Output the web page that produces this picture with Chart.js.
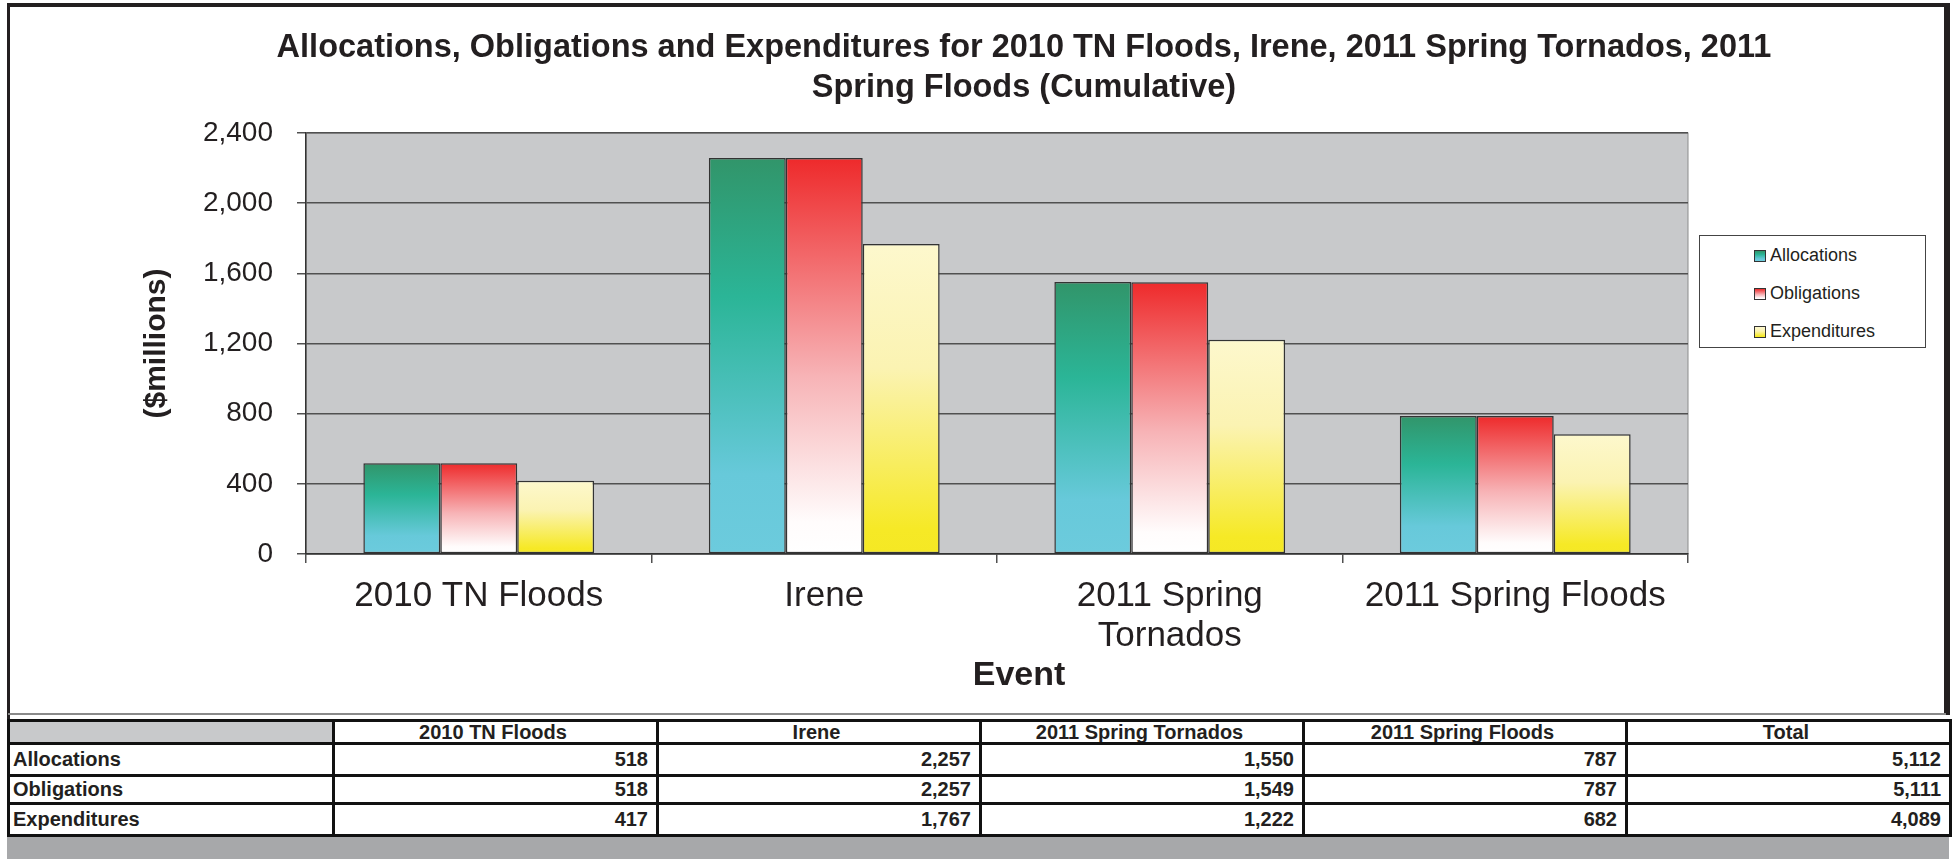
<!DOCTYPE html>
<html>
<head>
<meta charset="utf-8">
<script src="https://cdn.jsdelivr.net/npm/chart.js@4.4.0/dist/chart.umd.min.js"></script>
<style>
body{margin:0;background:#fff;width:1955px;height:859px;overflow:hidden;position:relative;font-family:"Liberation Sans",Arial,sans-serif;color:#231f20}
.abs{position:absolute}
#title{left:0;top:26px;width:2048px;text-align:center;font-weight:bold;font-size:32.5px;line-height:40px}
#xTitle{left:0;top:653px;width:2038px;text-align:center;font-weight:bold;font-size:34px;line-height:40px}
#chartBox{left:0;top:0;width:1955px;height:714px}
#legend{left:1699px;top:235px;width:225px;height:111px;border:1.5px solid #444;background:#fff}
.item{position:absolute;left:54px;font-size:18px;line-height:20px;height:20px}
.sw{display:inline-block;width:10px;height:10px;border:1px solid #333;margin-right:4px;vertical-align:-1px}
#dataTable{left:7px;top:719px;width:1942px;border-collapse:collapse;table-layout:fixed;font-weight:bold;font-size:20px}
#dataTable td{border:3px solid #111;padding:0 8px 0 3px;white-space:nowrap;overflow:hidden;box-sizing:content-box}
#dataTable tr.head td{height:20px;line-height:20px;text-align:center;background:#fff}
#dataTable tr.head td.blank{background:#c8c9cb}
#dataTable td.num{text-align:right}
</style>
</head>
<body>
<!-- outer frame -->
<div class="abs" style="left:8px;top:3px;width:1942px;height:4px;background:#231f20"></div>
<div class="abs" style="left:7px;top:3px;width:3px;height:856px;background:#231f20"></div>
<div class="abs" style="left:1944px;top:3px;width:6px;height:712px;background:#231f20"></div>
<div class="abs" style="left:8px;top:713px;width:1938px;height:2px;background:#8a8a8a"></div>
<div class="abs" style="left:7px;top:837px;width:1942px;height:22px;background:#a7a8aa"></div>

<div id="chartBox" class="abs"><canvas id="myChart"></canvas></div>
<div id="title" class="abs">Allocations, Obligations and Expenditures for 2010 TN Floods, Irene, 2011 Spring Tornados, 2011<br>Spring Floods (Cumulative)</div>
<div id="xTitle" class="abs">Event</div>
<div id="legend" class="abs"></div>
<table id="dataTable" class="abs"></table>

<script>
const categories = ['2010 TN Floods', 'Irene', '2011 Spring Tornados', '2011 Spring Floods'];
const tickLabels = ['2010 TN Floods', 'Irene', ['2011 Spring', 'Tornados'], '2011 Spring Floods'];
const seriesNames = ['Allocations', 'Obligations', 'Expenditures'];
const allocations = [518, 2257, 1550, 787];
const obligations = [518, 2257, 1549, 787];
const expenditures = [417, 1767, 1222, 682];
const totals = [5112, 5111, 4089];
const yTicks = [0, 400, 800, 1200, 1600, 2000, 2400];

// gradient stops top -> bottom for each series
const gradStops = [
    [[0, '#31956a'], [0.35, '#2bb597'], [0.8, '#67c9da'], [1, '#6ccbdd']],
    [[0, '#ee2a2b'], [0.55, '#f7b3b6'], [0.92, '#fffcfc'], [1, '#ffffff']],
    [[0, '#fdf8cd'], [0.4, '#fbf3b2'], [0.92, '#f6e926'], [1, '#f5e824']]
];

function barFill(stops){
    return function(ctx){
        const chart = ctx.chart
        if(!chart.chartArea || ctx.type !== 'data') return stops[0][1]
        const y = chart.scales.y
        const top = y.getPixelForValue(ctx.raw)
        const bot = y.getPixelForValue(0)
        const g = chart.ctx.createLinearGradient(0, top, 0, bot)
        stops.forEach(s => g.addColorStop(s[0], s[1]))
        return g
    }
}

const fmt = v => Number(v).toLocaleString('en-US')

// grey plot background
const plotBg = {
    id: 'plotBg',
    beforeDraw(chart){
        const {ctx, chartArea: a} = chart
        ctx.save()
        ctx.fillStyle = '#c8c9cb'
        ctx.fillRect(a.left, a.top, a.right - a.left, a.bottom - a.top)
        ctx.strokeStyle = '#8c8c8c'
        ctx.lineWidth = 1
        ctx.strokeRect(a.left, a.top, a.right - a.left, a.bottom - a.top)
        ctx.restore()
    }
}

const seriesData = [allocations, obligations, expenditures];
const ctx = document.getElementById('myChart');
const myChart = new Chart(ctx, {
    type: 'bar',
    data: {
        labels: categories,
        datasets: seriesNames.map((name, i) => ({
            label: name,
            data: seriesData[i],
            backgroundColor: barFill(gradStops[i]),
            borderColor: '#333333',
            borderWidth: 1.5,
            borderSkipped: false,
            categoryPercentage: 0.668,
            barPercentage: 1.0
        }))
    },
    plugins: [plotBg],
    options: {
        responsive: true,
        maintainAspectRatio: false,
        animation: false,
        layout: {padding: {top: 133, right: 267, left: 0, bottom: 0}},
        plugins: {
            legend: {display: false},
            tooltip: {enabled: false}
        },
        scales: {
            x: {
                ticks: {
                    color: '#231f20',
                    font: {family: '"Liberation Sans", Arial, sans-serif', size: 35, lineHeight: 1.15},
                    padding: 13,
                    maxRotation: 0,
                    autoSkip: false,
                    callback: (v, i) => tickLabels[i]
                },
                grid: {drawOnChartArea: false, tickLength: 9, color: '#505050', lineWidth: 1.5, offset: true},
                border: {color: '#333333', width: 1.5},
                afterFit: s => { s.height = 160 }
            },
            y: {
                min: 0,
                max: 2400,
                afterBuildTicks: s => { s.ticks = yTicks.map(v => ({value: v})) },
                ticks: {
                    color: '#231f20',
                    font: {family: '"Liberation Sans", Arial, sans-serif', size: 28},
                    padding: 24,
                    callback: v => fmt(v)
                },
                grid: {color: '#505050', lineWidth: 1.5, tickLength: 9},
                border: {color: '#333333', width: 1.5},
                title: {
                    display: true, text: '($millions)', color: '#231f20',
                    font: {family: '"Liberation Sans", Arial, sans-serif', size: 30, weight: 'bold'},
                    padding: {top: 139, bottom: 0}
                },
                afterFit: s => { s.width = 306 }
            }
        }
    }
});

// legend box (html)
const legend = document.getElementById('legend')
seriesNames.forEach((name, i) => {
    const stops = gradStops[i].map(s => s[1] + ' ' + (s[0] * 100) + '%').join(',')
    const div = document.createElement('div')
    div.className = 'item'
    div.style.top = (9 + i * 38) + 'px'
    div.innerHTML = '<span class="sw" style="background:linear-gradient(' + stops + ')"></span>' + name
    legend.appendChild(div)
})

// data table under the chart
const table = document.getElementById('dataTable')
const colW = [325, 324, 323, 323, 323, 324]
let html = '<colgroup>' + colW.map(w => '<col style="width:' + w + 'px">').join('') + '</colgroup>'
html += '<tr class="head"><td class="blank"></td>' + categories.map(c => '<td>' + c + '</td>').join('') + '<td>Total</td></tr>'
const rowH = [29, 25, 29]
seriesNames.forEach((name, i) => {
    const st = ' style="height:' + rowH[i] + 'px;line-height:' + rowH[i] + 'px"'
    html += '<tr><td' + st + '>' + name + '</td>' +
        seriesData[i].map(v => '<td class="num"' + st + '>' + fmt(v) + '</td>').join('') +
        '<td class="num"' + st + '>' + fmt(totals[i]) + '</td></tr>'
})
table.innerHTML = html
</script>
</body>
</html>
